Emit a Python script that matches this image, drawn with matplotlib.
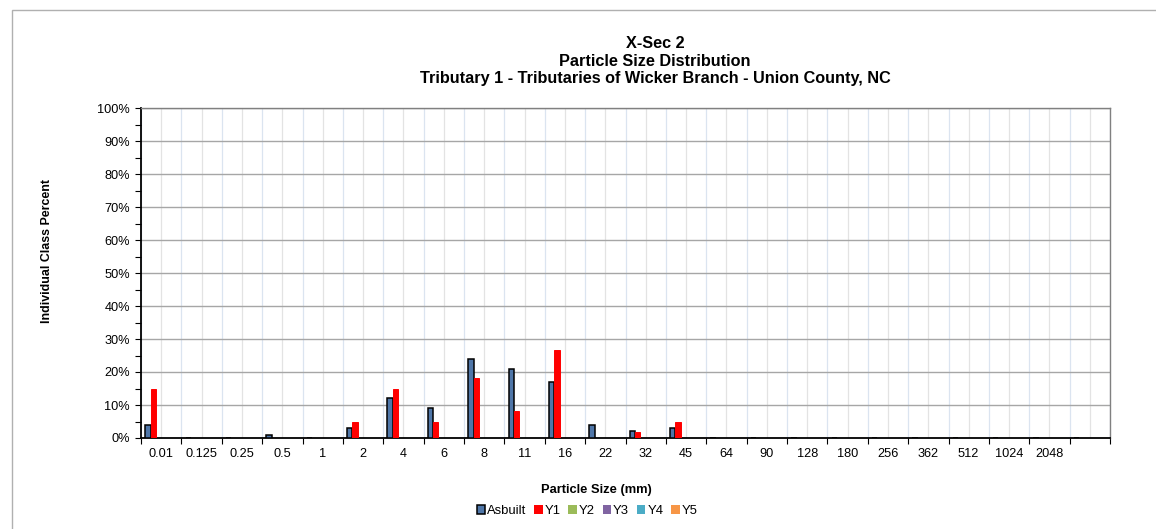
import matplotlib
matplotlib.use("Agg")
import matplotlib.pyplot as plt
from matplotlib.patches import Rectangle, Patch
import numpy as np

plt.rcParams['font.family'] = ['Liberation Sans', 'DejaVu Sans']

categories = ["0.01", "0.125", "0.25", "0.5", "1", "2", "4", "6", "8", "11", "16", "22",
              "32", "45", "64", "90", "128", "180", "256", "362", "512", "1024", "2048", ""]
asbuilt = [4, 0, 0, 1, 0, 3, 12, 9, 24, 21, 17, 4, 2, 3, 0, 0, 0, 0, 0, 0, 0, 0, 0, 0]
y1 = [15, 0, 0, 0, 0, 5, 15, 5, 18.3, 8.3, 26.7, 0, 1.7, 5, 0, 0, 0, 0, 0, 0, 0, 0, 0, 0]
y2 = [0] * 24
y3 = [0] * 24
y4 = [0] * 24
y5 = [0] * 24

series_names = ["Asbuilt", "Y1", "Y2", "Y3", "Y4", "Y5"]
series_data = [asbuilt, y1, y2, y3, y4, y5]
colors = ["#4F76A8", "#FF0000", "#9BBB59", "#8064A2", "#4BACC6", "#F79646"]

W, H = 1156, 529
fig = plt.figure(figsize=(W / 100, H / 100), dpi=100)
# chart area border
fig.patches.append(Rectangle((12 / W, -0.1), 1.2, 1 - 10 / H + 0.1, transform=fig.transFigure,
                             fill=False, edgecolor="#b0b0b0", linewidth=1))

ax = fig.add_axes([141 / W, 1 - 438 / H, (1110 - 141) / W, (438 - 108) / H])

n = len(categories)
x = np.arange(n)
gap = 0.208
bw = (1 - gap) / 6

# vertical gridlines
for i in range(n + 1):
    ax.axvline(i, color="#dbe4f0", linewidth=0.9, zorder=0)
for i in range(n):
    ax.axvline(i + 0.5, color="#e3e3e3", linewidth=0.9, zorder=0)
# horizontal gridlines
for v in range(10, 101, 10):
    ax.axhline(v, color="#a6a6a6", linewidth=1, zorder=0.5)

for j, (name, data, c) in enumerate(zip(series_names, series_data, colors)):
    pos = x + gap / 2 + bw * (j + 0.5)
    if j == 0:
        ax.bar(pos, data, width=bw, color=c, edgecolor="black", linewidth=1.1, zorder=3, label=name)
    else:
        ax.bar(pos, data, width=bw, color=c, edgecolor=c, linewidth=0.7, zorder=3, label=name)

ax.set_xlim(0, n)
ax.set_ylim(0, 100)
ax.set_yticks(range(0, 101, 10))
ax.set_yticks(range(5, 100, 10), minor=True)
ax.set_yticklabels([f"{v}%" for v in range(0, 101, 10)], fontsize=9.2)
ax.set_xticks(np.arange(n + 1))
ax.set_xticklabels([])
ax.set_xticks(x + 0.5, minor=True)
ax.set_xticklabels(categories, minor=True, fontsize=9.2)
ax.tick_params(axis="x", which="minor", length=0, pad=7)
ax.tick_params(axis="x", which="major", length=4, direction="out", width=0.8)
ax.tick_params(axis="y", which="both", length=4, direction="out", width=0.8, pad=4)

for s in ["top", "right"]:
    ax.spines[s].set_color("#808080")
    ax.spines[s].set_linewidth(1)
for s in ["left", "bottom"]:
    ax.spines[s].set_color("black")
    ax.spines[s].set_linewidth(1.3)

fig.text(47 / W, 1 - 251 / H, "Individual Class Percent", ha="center", va="center", rotation=90,
         fontsize=8.9, fontweight="bold")

fig.text(655 / W, 1 - 43 / H, "X-Sec 2", ha="center", va="center", fontsize=11.7, fontweight="bold")
fig.text(655 / W, 1 - 61 / H, "Particle Size Distribution", ha="center", va="center", fontsize=11.7, fontweight="bold")
fig.text(655 / W, 1 - 79 / H, "Tributary 1 - Tributaries of Wicker Branch - Union County, NC",
         ha="center", va="center", fontsize=11.7, fontweight="bold")
fig.text(596 / W, 1 - 490 / H, "Particle Size (mm)", ha="center", va="center", fontsize=9.3, fontweight="bold")

handles = [Patch(facecolor=colors[0], edgecolor="black", linewidth=1.1)] + \
          [Patch(facecolor=c, edgecolor="none") for c in colors[1:]]
fig.legend(handles, series_names, loc="center", bbox_to_anchor=(587 / W, 1 - 511 / H), ncol=6,
           frameon=False, fontsize=9.4, handlelength=0.65, handleheight=0.65, handletextpad=0.15,
           columnspacing=0.6, borderpad=0)

fig.savefig("out.png", dpi=100)
